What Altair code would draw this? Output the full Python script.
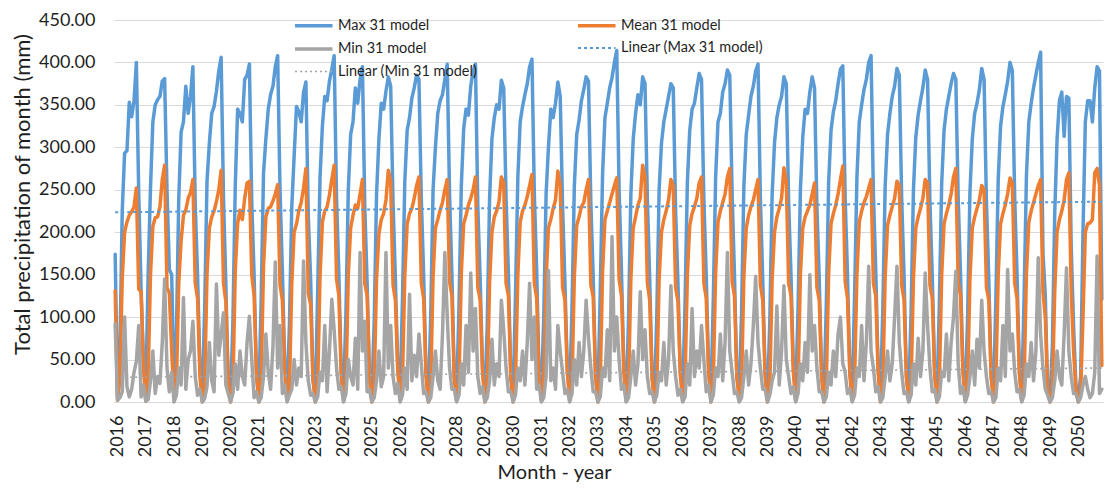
import altair as alt
import pandas as pd

# ---------------- data ----------------
first_year = 2016
years = list(range(2016, 2051))

series_names = ["Max 31 model", "Mean 31 model", "Min 31 model",
                "Linear (Max 31 model)", "Linear (Min 31 model)"]
series_colors = ["#5B9BD5", "#ED7D31", "#A5A5A5", "#5B9BD5", "#A5A5A5"]
series_dash = [[1, 0], [1, 0], [1, 0], [3, 3], [2, 3]]
series_width = [3.5, 3.5, 3.5, 2.0, 1.6]

y_ticks = [0, 50, 100, 150, 200, 250, 300, 350, 400, 450]

max_31 = [
    174, 5, 60, 225, 293, 296, 353, 336, 355, 400, 246, 133,   # 2016
    45, 8, 150, 252, 330, 350, 356, 360, 378, 381, 250, 156,   # 2017
    150, 12, 80, 240, 318, 330, 372, 340, 360, 395, 232, 148,  # 2018
    40, 6, 110, 260, 305, 340, 348, 366, 390, 406, 240, 140,   # 2019
    20, 4, 95, 255, 345, 340, 330, 380, 385, 398, 235, 150,    # 2020
    30, 5, 120, 270, 310, 345, 362, 372, 395, 408, 250, 155,   # 2021
    45, 10, 90, 230, 290, 348, 342, 330, 365, 377, 220, 145,   # 2022
    25, 5, 130, 265, 325, 360, 355, 378, 392, 408, 240, 150,   # 2023
    35, 8, 105, 250, 315, 330, 370, 352, 380, 395, 230, 140,   # 2024
    30, 6, 95, 245, 310, 352, 345, 366, 383, 372, 235, 145,    # 2025
    40, 10, 120, 260, 320, 335, 358, 370, 385, 380, 240, 150,  # 2026
    35, 5, 100, 250, 300, 340, 355, 362, 380, 398, 245, 150,   # 2027
    30, 8, 110, 255, 322, 345, 338, 372, 390, 398, 230, 145,   # 2028
    40, 6, 90, 240, 310, 335, 350, 345, 379, 370, 240, 150,    # 2029
    30, 5, 125, 265, 330, 348, 362, 375, 395, 404, 245, 155,   # 2030
    35, 8, 100, 245, 300, 345, 335, 352, 377, 360, 230, 140,   # 2031
    40, 10, 110, 255, 315, 332, 355, 368, 383, 378, 235, 148,  # 2032
    30, 6, 130, 270, 335, 352, 370, 382, 400, 414, 250, 155,   # 2033
    40, 8, 95, 245, 310, 340, 362, 350, 383, 375, 240, 145,    # 2034
    30, 5, 100, 250, 305, 330, 345, 360, 375, 370, 225, 140,   # 2035
    35, 8, 115, 260, 320, 345, 352, 370, 387, 380, 238, 150,   # 2036
    40, 6, 120, 265, 330, 340, 365, 375, 391, 385, 245, 150,   # 2037
    30, 10, 105, 255, 315, 338, 360, 372, 390, 398, 240, 145,  # 2038
    35, 6, 95, 245, 305, 335, 350, 360, 383, 375, 235, 150,    # 2039
    40, 8, 110, 250, 312, 345, 340, 365, 383, 370, 230, 145,   # 2040
    30, 5, 115, 260, 320, 342, 355, 375, 392, 396, 240, 150,   # 2041
    35, 8, 125, 265, 330, 350, 368, 380, 400, 408, 245, 155,   # 2042
    40, 6, 110, 255, 315, 340, 360, 372, 393, 385, 240, 150,   # 2043
    30, 8, 105, 250, 312, 338, 355, 370, 391, 380, 235, 148,   # 2044
    35, 5, 115, 258, 320, 345, 360, 375, 387, 380, 240, 150,   # 2045
    40, 8, 100, 248, 310, 340, 352, 368, 393, 380, 235, 145,   # 2046
    30, 6, 120, 262, 325, 348, 362, 378, 400, 390, 240, 150,   # 2047
    35, 8, 125, 268, 330, 352, 370, 385, 400, 412, 176, 125,   # 2048
    10, 5, 66, 222, 310, 355, 365, 313, 360, 358, 183, 90,     # 2049
    20, 5, 30, 200, 330, 355, 355, 330, 370, 395, 390, 121,    # 2050
]

mean_31 = [
    131, 2, 25, 145, 200, 212, 220, 224, 230, 252, 133, 130,   # 2016
    45, 1, 30, 150, 207, 217, 218, 230, 262, 279, 135, 128,    # 2017
    60, 3, 20, 140, 190, 220, 226, 240, 247, 262, 140, 122,    # 2018
    30, 0, 18, 150, 205, 218, 225, 236, 250, 273, 140, 118,    # 2019
    25, 0, 15, 155, 210, 226, 215, 240, 258, 260, 150, 125,    # 2020
    35, 0, 25, 160, 218, 228, 230, 237, 245, 256, 138, 120,    # 2021
    40, 2, 15, 140, 200, 210, 225, 235, 252, 275, 128, 115,    # 2022
    28, 0, 20, 148, 212, 225, 230, 244, 262, 279, 145, 125,    # 2023
    32, 1, 18, 150, 205, 220, 232, 228, 245, 262, 140, 125,    # 2024
    30, 0, 20, 145, 198, 215, 222, 238, 273, 260, 138, 120,    # 2025
    38, 2, 25, 150, 210, 222, 228, 240, 255, 265, 140, 122,    # 2026
    30, 0, 18, 148, 205, 215, 226, 235, 250, 262, 142, 125,    # 2027
    28, 1, 22, 152, 210, 220, 232, 240, 250, 265, 135, 120,    # 2028
    35, 0, 16, 140, 200, 218, 225, 236, 265, 258, 140, 125,    # 2029
    30, 0, 24, 150, 212, 225, 232, 242, 255, 268, 140, 122,    # 2030
    32, 1, 20, 145, 205, 215, 228, 238, 272, 255, 135, 120,    # 2031
    35, 2, 22, 148, 208, 218, 230, 235, 250, 262, 138, 124,    # 2032
    30, 0, 25, 155, 215, 225, 235, 245, 255, 264, 145, 125,    # 2033
    38, 1, 18, 145, 205, 218, 232, 240, 279, 265, 140, 120,    # 2034
    28, 0, 18, 145, 200, 215, 225, 238, 262, 255, 135, 118,    # 2035
    32, 1, 22, 150, 208, 222, 230, 240, 258, 265, 140, 122,    # 2036
    35, 0, 25, 152, 212, 225, 235, 245, 265, 275, 142, 125,    # 2037
    30, 2, 20, 148, 205, 220, 230, 238, 250, 262, 138, 120,    # 2038
    32, 0, 18, 145, 200, 218, 228, 240, 276, 260, 140, 125,    # 2039
    35, 1, 22, 150, 205, 218, 225, 232, 245, 258, 135, 120,    # 2040
    30, 0, 22, 152, 210, 222, 232, 245, 262, 278, 142, 122,    # 2041
    32, 1, 24, 150, 212, 225, 235, 242, 252, 262, 140, 125,    # 2042
    35, 0, 20, 148, 208, 220, 230, 240, 260, 255, 138, 120,    # 2043
    30, 1, 20, 145, 205, 218, 228, 240, 262, 258, 138, 122,    # 2044
    32, 0, 22, 150, 210, 222, 232, 245, 265, 275, 142, 125,    # 2045
    35, 1, 20, 145, 205, 218, 228, 238, 255, 250, 135, 120,    # 2046
    30, 0, 24, 150, 210, 222, 232, 245, 264, 258, 140, 122,    # 2047
    32, 1, 24, 152, 212, 225, 235, 245, 255, 262, 130, 100,    # 2048
    15, 0, 12, 130, 200, 215, 225, 238, 262, 270, 130, 60,     # 2049
    15, 0, 10, 100, 200, 210, 211, 215, 270, 275, 255, 43,     # 2050
]

min_31 = [
    92, 2, 5, 12, 100, 18, 6, 15, 35, 48, 90, 6,      # 2016
    20, 1, 3, 25, 60, 10, 30, 22, 70, 145, 40, 12,    # 2017
    35, 0, 8, 40, 20, 123, 15, 50, 60, 95, 30, 8,     # 2018
    15, 0, 4, 18, 70, 25, 12, 139, 55, 80, 105, 20,   # 2019
    10, 0, 10, 45, 15, 60, 30, 20, 70, 101, 50, 5,    # 2020
    12, 0, 5, 30, 80, 35, 15, 65, 165, 40, 90, 10,    # 2021
    20, 0, 8, 15, 50, 20, 40, 30, 166, 70, 25, 8,     # 2022
    10, 0, 6, 35, 25, 90, 12, 60, 121, 85, 40, 15,    # 2023
    18, 0, 10, 50, 30, 20, 75, 15, 176, 60, 95, 12,   # 2024
    15, 0, 5, 25, 60, 18, 30, 176, 40, 90, 30, 10,    # 2025
    22, 0, 8, 40, 15, 127, 25, 55, 30, 80, 45, 10,    # 2026
    12, 0, 5, 30, 60, 25, 15, 80, 176, 102, 40, 15,   # 2027
    15, 0, 8, 45, 20, 90, 35, 152, 60, 110, 30, 10,   # 2028
    18, 0, 5, 25, 74, 20, 45, 30, 120, 85, 40, 12,    # 2029
    12, 0, 8, 40, 25, 60, 20, 70, 140, 50, 100, 15,   # 2030
    20, 0, 5, 30, 155, 25, 40, 15, 90, 60, 35, 10,    # 2031
    15, 0, 10, 50, 20, 70, 30, 60, 120, 75, 40, 12,   # 2032
    12, 0, 6, 40, 30, 85, 25, 195, 60, 100, 50, 15,   # 2033
    20, 0, 5, 30, 60, 20, 45, 130, 50, 85, 30, 10,    # 2034
    12, 0, 8, 35, 25, 70, 20, 50, 137, 60, 30, 8,     # 2035
    15, 0, 6, 45, 20, 110, 30, 60, 40, 90, 50, 12,    # 2036
    20, 0, 8, 40, 30, 80, 25, 70, 176, 60, 35, 10,    # 2037
    12, 0, 5, 30, 60, 20, 45, 90, 148, 70, 40, 15,    # 2038
    15, 0, 8, 25, 35, 113, 20, 60, 137, 50, 30, 10,   # 2039
    18, 0, 10, 45, 25, 70, 35, 150, 60, 90, 40, 12,   # 2040
    12, 0, 6, 35, 20, 60, 30, 80, 100, 45, 35, 10,    # 2041
    15, 0, 8, 40, 30, 90, 25, 70, 160, 60, 40, 12,    # 2042
    18, 0, 5, 30, 60, 25, 45, 100, 160, 70, 35, 10,   # 2043
    12, 0, 8, 45, 20, 75, 30, 60, 152, 90, 40, 12,    # 2044
    15, 0, 6, 35, 30, 80, 25, 70, 100, 154, 45, 10,   # 2045
    18, 0, 8, 30, 60, 20, 74, 40, 120, 60, 30, 10,    # 2046
    12, 0, 5, 40, 25, 90, 30, 156, 60, 80, 35, 12,    # 2047
    15, 0, 8, 45, 30, 70, 25, 60, 170, 80, 40, 15,    # 2048
    8, 0, 5, 25, 60, 30, 20, 80, 158, 60, 30, 10,     # 2049
    10, 0, 5, 20, 30, 15, 5, 10, 35, 172, 10, 15,     # 2050
]

# Excel linear trend lines: values at first and last month
trend_max = [223.5, 236.0]
trend_min = [29.0, 40.0]

# ---------------- tables ----------------
n_months = len(max_31)
month_idx = list(range(n_months))


def series_frame(values, name, idx):
    return pd.DataFrame({"m": idx, "v": values, "series": name})


df_max = series_frame(max_31, series_names[0], month_idx)
df_mean = series_frame(mean_31, series_names[1], month_idx)
df_min = series_frame(min_31, series_names[2], month_idx)
df_tmax = series_frame(trend_max, series_names[3], [0, n_months - 1])
df_tmin = series_frame(trend_min, series_names[4], [0, n_months - 1])

FONT = "Lato"
TXT = "#1f1f1f"

# long flat legend stroke: path spans 0..37.5 px with symbolSize 225
legend = alt.Legend(
    title=None, orient="none", legendX=179, legendY=-4,
    direction="horizontal", columns=2, columnPadding=93, rowPadding=6.5,
    symbolType="M-1,0H4", symbolSize=225, labelOffset=26,
    labelFont=FONT, labelFontSize=14.5, labelColor=TXT, labelLimit=400,
    padding=0,
)

x_enc = alt.X(
    "m:Q",
    scale=alt.Scale(domain=[-0.5, n_months - 0.5], nice=False, zero=False),
    axis=alt.Axis(
        values=[12 * k + 1 for k in range(len(years))],
        labelExpr=f"'' + ({first_year} + floor(datum.value / 12))",
        labelAngle=270, labelFont=FONT, labelFontSize=18, labelColor=TXT,
        labelPadding=13, labelOverlap=False, labelFlush=False,
        ticks=False, grid=False, domainColor="#D9D9D9", domainWidth=1,
        title="Month - year", titleFont=FONT, titleFontSize=20,
        titleFontWeight="normal", titleColor=TXT,
        titleX=440, titleY=70, titleAlign="center", titleBaseline="middle",
    ),
)

y_enc = alt.Y(
    "v:Q",
    scale=alt.Scale(domain=[0, 450], nice=False),
    axis=alt.Axis(
        values=y_ticks, format=".2f",
        labelFont=FONT, labelFontSize=18, labelColor=TXT, labelPadding=19,
        ticks=False, domain=False, grid=True, gridColor="#D9D9D9", gridWidth=1,
        title="Total precipitation of month (mm)", titleFont=FONT,
        titleFontSize=22, titleFontWeight="normal", titleColor=TXT,
        titleAngle=270, titleX=-92, titleY=174,
        titleAlign="center", titleBaseline="middle",
    ),
)

color_enc = alt.Color("series:N",
                      scale=alt.Scale(domain=series_names, range=series_colors),
                      legend=legend)
dash_enc = alt.StrokeDash("series:N",
                          scale=alt.Scale(domain=series_names, range=series_dash),
                          legend=legend)
width_enc = alt.StrokeWidth("series:N",
                            scale=alt.Scale(type="ordinal", domain=series_names,
                                            range=series_width),
                            legend=legend)


def layer(df, cap="round"):
    return alt.Chart(df).mark_line(strokeJoin="round", strokeCap=cap).encode(
        x=x_enc, y=y_enc, color=color_enc, strokeDash=dash_enc,
        strokeWidth=width_enc,
    )


chart = alt.layer(
    layer(df_max), layer(df_mean), layer(df_min),
    layer(df_tmax, "butt"), layer(df_tmin, "butt"),
).properties(
    width=989, height=382,
    padding={"left": 106, "top": 12, "right": 1, "bottom": 80},
    autosize=alt.AutoSizeParams(type="none"),
    background="white",
).configure_view(strokeWidth=0)

chart.save("out.html", embed_options={"renderer": "svg", "actions": False})
